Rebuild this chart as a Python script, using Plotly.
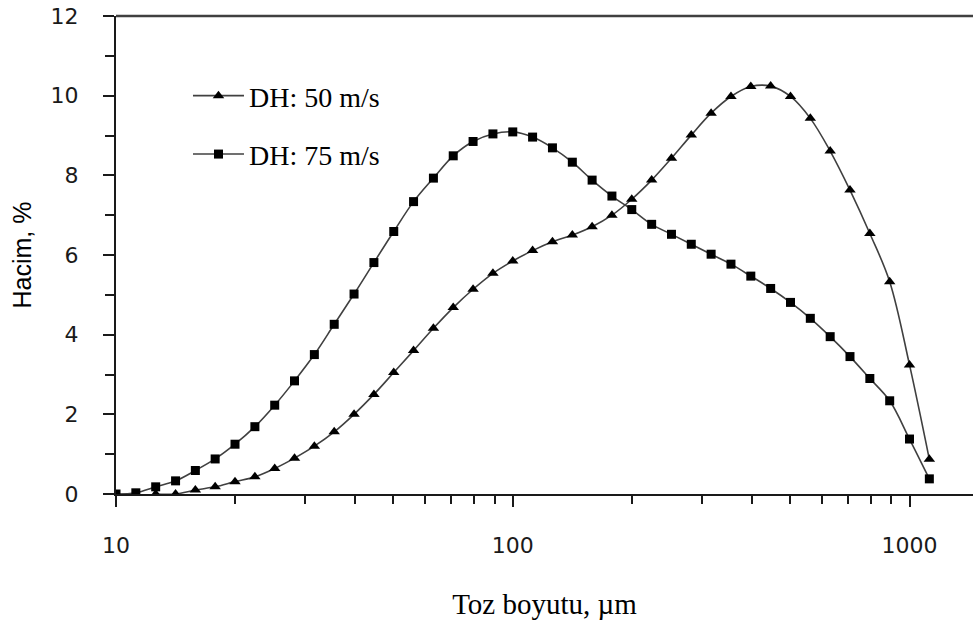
import plotly.graph_objects as go

# Particle size (µm), log-spaced classes
particle_size = [10, 11.22, 12.59, 14.13, 15.85, 17.78, 19.95, 22.39, 25.12, 28.18,
                 31.62, 35.48, 39.81, 44.67, 50.12, 56.23, 63.10, 70.79, 79.43, 89.13,
                 100, 112.2, 125.9, 141.3, 158.5, 177.8, 199.5, 223.9, 251.2, 281.8,
                 316.2, 354.8, 398.1, 446.7, 501.2, 562.3, 631.0, 707.9, 794.3, 891.3,
                 1000, 1122]

# Volume % for DH: 50 m/s
vol_50 = [None, None, 0.0, 0.0, 0.10, 0.18, 0.31, 0.43, 0.64, 0.90,
          1.20, 1.56, 2.00, 2.50, 3.05, 3.60, 4.16, 4.68, 5.14, 5.54,
          5.85, 6.11, 6.33, 6.50, 6.71, 7.00, 7.40, 7.88, 8.43, 9.01,
          9.56, 9.98, 10.23, 10.24, 9.98, 9.43, 8.61, 7.63, 6.54, 5.33,
          3.24, 0.87]

# Volume % for DH: 75 m/s
vol_75 = [0.0, 0.03, 0.18, 0.33, 0.59, 0.88, 1.25, 1.69, 2.23, 2.84,
          3.50, 4.26, 5.02, 5.81, 6.59, 7.34, 7.93, 8.49, 8.85, 9.04,
          9.09, 8.96, 8.69, 8.33, 7.88, 7.48, 7.14, 6.77, 6.52, 6.27,
          6.02, 5.77, 5.47, 5.16, 4.81, 4.41, 3.95, 3.45, 2.90, 2.34,
          1.38, 0.38]

series_names = ["DH: 50 m/s", "DH: 75 m/s"]
x_tick_vals = [10, 100, 1000]
x_tick_text = ["10", "100", "1000"]
x_minor_ticks = [20, 30, 40, 50, 60, 70, 80, 90, 200, 300, 400, 500, 600, 700, 800, 900]
y_tick_vals = [0, 2, 4, 6, 8, 10, 12]
y_minor_ticks = [1, 3, 5, 7, 9, 11]

line_col = "#404040"
axis_col = "#1a1a1a"

fig = go.Figure()
fig.add_trace(go.Scatter(
    x=particle_size, y=vol_50, name=series_names[0], mode="lines+markers",
    line=dict(color=line_col, width=1.6, shape="spline"),
    marker=dict(symbol="triangle-up", size=10, color="black"),
    legendgroup="a", connectgaps=False))
fig.add_trace(go.Scatter(
    x=particle_size, y=vol_75, name=series_names[1], mode="lines+markers",
    line=dict(color=line_col, width=1.6, shape="spline"),
    marker=dict(symbol="square", size=9, color="black"),
    legendgroup="b"))

tick_font = dict(family="DejaVu Sans", size=22, color="#1a1a1a")

fig.update_layout(
    width=973, height=626,
    margin=dict(l=116, r=0, t=16, b=132),
    paper_bgcolor="white", plot_bgcolor="white",
    showlegend=True,
    legend=dict(x=0.084, y=0.885, xanchor="left", yanchor="top",
                font=dict(family="Liberation Serif", size=28, color="black"),
                bgcolor="rgba(0,0,0,0)", tracegroupgap=19, traceorder="grouped",
                itemwidth=51),
    xaxis=dict(type="log", range=[1, 3.160], automargin=False,
               tickvals=x_tick_vals, ticktext=x_tick_text,
               ticks="outside", ticklen=11, tickwidth=1.5, tickcolor=axis_col,
               minor=dict(tickvals=x_minor_ticks, ticks="outside", ticklen=8,
                          tickwidth=1.5, tickcolor=axis_col, showgrid=False),
               showline=True, linecolor=axis_col, linewidth=2,
               showgrid=False, zeroline=False, ticklabeloverflow="allow",
               tickfont=tick_font, ticklabelstandoff=20,
               title=dict(text="Toz boyutu, µm",
                          font=dict(family="Liberation Serif", size=29, color="black"),
                          standoff=36)),
    yaxis=dict(range=[0, 12], tickvals=y_tick_vals, automargin=False,
               ticks="outside", ticklen=11, tickwidth=1.5, tickcolor=axis_col,
               minor=dict(tickvals=y_minor_ticks, ticks="outside", ticklen=9,
                          tickwidth=1.5, tickcolor=axis_col, showgrid=False),
               showline=True, linecolor=axis_col, linewidth=2,
               showgrid=False, zeroline=False, ticklabeloverflow="allow",
               tickfont=tick_font, ticklabelstandoff=20,
               title=dict(text="Hacim, %",
                          font=dict(family="Liberation Sans", size=25, color="black"),
                          standoff=12)),
)

# top border of plot area
fig.add_shape(type="line", xref="paper", yref="paper", x0=0, x1=1, y0=1, y1=1,
              line=dict(color="#404040", width=2.5))

fig.write_html("out.html", config={"displayModeBar": False},
               post_script="document.body.style.margin='0px';document.body.style.overflow='hidden';")
